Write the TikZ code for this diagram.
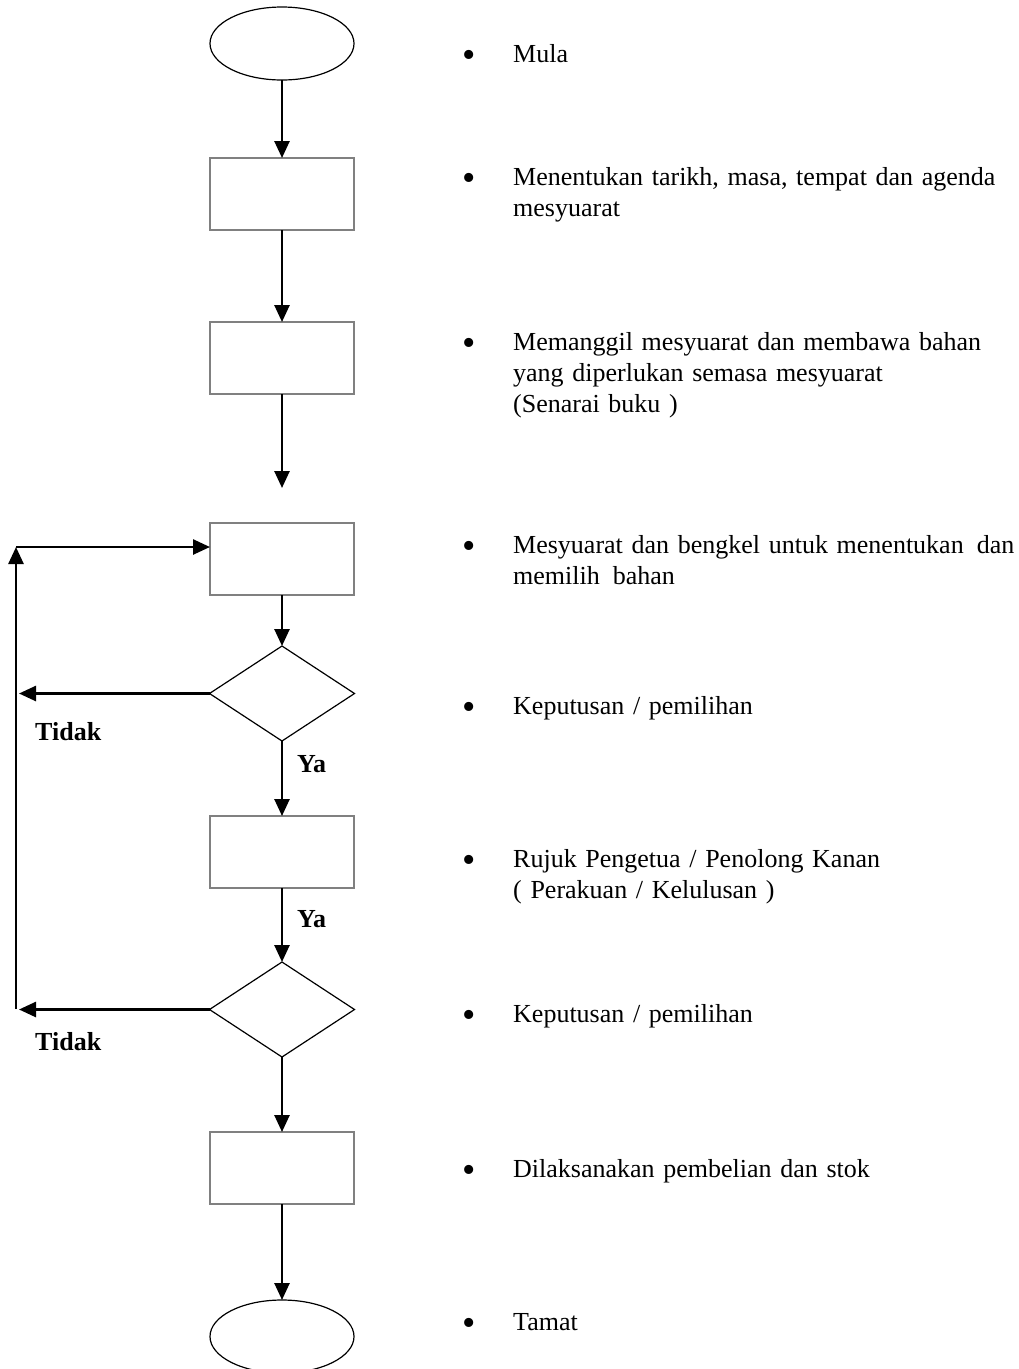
\documentclass[tikz,border=0pt]{standalone}
\usepackage{fontspec}
\setmainfont{Liberation Serif}
\usetikzlibrary{shapes.geometric,arrows.meta,positioning}

\begin{document}
\begin{tikzpicture}[
    x=1pt, y=-1pt,
    node distance=75pt,
    terminal/.style={ellipse, draw, line width=1.2pt, minimum width=144pt, minimum height=73pt, inner sep=0pt, outer sep=0pt},
    process/.style={rectangle, draw=black!50, line width=1.5pt, minimum width=144pt, minimum height=72pt, inner sep=0pt, outer sep=0pt},
    decision/.style={diamond, draw, line width=1.2pt, minimum width=145pt, minimum height=95pt, inner sep=0pt, outer sep=0pt},
    arrow/.style={-{Triangle[width=15pt,length=17pt]}, line width=2.6pt},
    dot/.style={anchor=base, inner sep=0pt, font=\fontsize{38}{31}\selectfont},
    note/.style={anchor=base west, inner sep=0pt, text width=505pt, align=left, font=\fontsize{26}{31}\selectfont},
    answer/.style={anchor=base west, inner sep=0pt, font=\fontsize{26}{31}\selectfont\bfseries}
]
\useasboundingbox (0,0) rectangle (1019,1369);

% main column
\node[terminal] (start) at (282,43.5) {};
\node[process, below=78pt of start] (agenda) {};
\node[process, below=92pt of agenda] (call) {};
\node[process, below=129pt of call] (meet) {};
\node[decision, below=51pt of meet] (choose) {};
\node[process, below=75pt of choose] (refer) {};
\node[decision, below=74pt of refer] (approve) {};
\node[process, below=75pt of approve] (buy) {};
\node[terminal, below=96pt of buy] (stop) {};

% loop back
\coordinate (gap) at (282,488);
\coordinate (looptop) at (16,547);
\coordinate (loopbot) at (16,1009);
\coordinate (no1) at (19,693.5);
\coordinate (no2) at (19,1009.5);

\draw[arrow] (start) -- (agenda);
\draw[arrow] (agenda) -- (call);
\draw[arrow] (call) -- (gap);
\draw[arrow] (meet) -- (choose);
\draw[arrow] (choose) -- (refer);
\draw[arrow] (refer) -- (approve);
\draw[arrow] (approve) -- (buy);
\draw[arrow] (buy) -- (stop);
\draw[arrow] (choose.west) -- (no1);
\draw[arrow] (approve.west) -- (no2);
\draw[arrow] (loopbot) -- (looptop);
\draw[arrow] (looptop) -- (meet.west |- looptop);

\node[answer] (tidak1) at (35,740) {Tidak};
\node[answer] (ya1) at (297,772) {Ya};
\node[answer] (ya2) at (297,927) {Ya};
\node[answer] (tidak2) at (35,1050) {Tidak};

% notes
\node[dot] (b1) at (469,67) {\textbullet};
\node[note] (t1) at (513,62) {Mula};
\node[dot] (b2) at (469,190) {\textbullet};
\node[note] (t2) at (513,185) {Menentukan tarikh, masa, tempat dan agenda\\mesyuarat};
\node[dot] (b3) at (469,355) {\textbullet};
\node[note] (t3) at (513,350) {Memanggil mesyuarat dan membawa bahan\\yang diperlukan semasa mesyuarat\\(Senarai buku )};
\node[dot] (b4) at (469,558) {\textbullet};
\node[note] (t4) at (513,553) {Mesyuarat dan bengkel untuk menentukan\, dan\\memilih\, bahan};
\node[dot] (b5) at (469,719) {\textbullet};
\node[note] (t5) at (513,714) {Keputusan / pemilihan};
\node[dot] (b6) at (469,872) {\textbullet};
\node[note] (t6) at (513,867) {Rujuk Pengetua / Penolong Kanan\\( Perakuan / Kelulusan )};
\node[dot] (b7) at (469,1027) {\textbullet};
\node[note] (t7) at (513,1022) {Keputusan / pemilihan};
\node[dot] (b8) at (469,1182) {\textbullet};
\node[note] (t8) at (513,1177) {Dilaksanakan pembelian dan stok};
\node[dot] (b9) at (469,1335) {\textbullet};
\node[note] (t9) at (513,1330) {Tamat};

\end{tikzpicture}
\end{document}
